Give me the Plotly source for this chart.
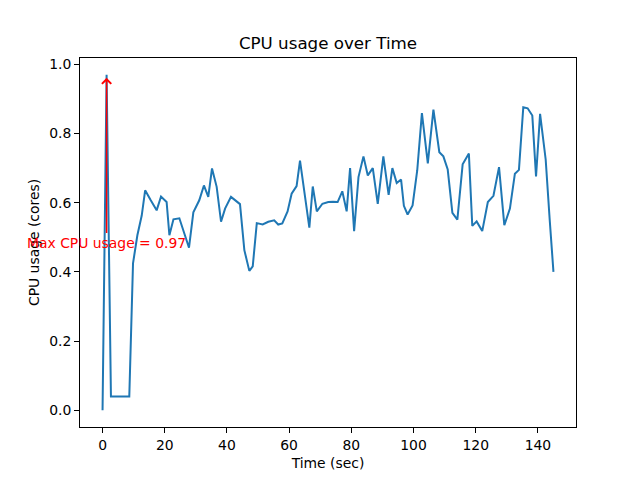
import plotly.graph_objects as go

time_sec = [0, 1.3, 2.7, 4.6, 6.5, 8.6, 9.8, 11.2, 12.6, 13.7, 15.5, 17.4, 18.8, 20.6, 21.5,
            22.8, 24.7, 26.2, 27.8, 29.2, 31.1, 32.6, 34.0, 35.2, 36.7, 38.1, 39.4, 41.3, 42.8,
            44.2, 45.6, 47.2, 48.3, 49.6, 51.5, 53.3, 55.2, 56.5, 57.8, 59.5, 60.8, 62.4, 63.5,
            65.1, 66.5, 67.6, 68.9, 70.7, 72.6, 74.1, 75.6, 77.1, 78.5, 79.6, 80.9, 82.3, 83.9,
            85.3, 86.9, 88.5, 90.3, 92.0, 93.2, 94.6, 96.0, 96.9, 98.1, 99.7, 101.2, 102.7,
            104.6, 106.4, 108.3, 109.6, 111.0, 112.5, 114.1, 115.8, 117.8, 118.9, 120.3, 122.1,
            123.9, 125.7, 127.5, 129.2, 131.0, 132.6, 133.9, 135.3, 136.7, 138.2, 139.4, 140.7,
            142.5, 143.8, 145.0]
cpu_usage = [0.0, 0.97, 0.040, 0.040, 0.041, 0.040, 0.425, 0.506, 0.563, 0.636, 0.607, 0.578,
             0.618, 0.602, 0.506, 0.552, 0.555, 0.512, 0.470, 0.572, 0.607, 0.650, 0.617, 0.699,
             0.646, 0.545, 0.583, 0.617, 0.605, 0.596, 0.463, 0.403, 0.416, 0.541, 0.537, 0.545,
             0.549, 0.537, 0.540, 0.575, 0.626, 0.648, 0.722, 0.626, 0.528, 0.647, 0.575, 0.597,
             0.602, 0.603, 0.602, 0.633, 0.575, 0.700, 0.518, 0.674, 0.734, 0.679, 0.700, 0.597,
             0.734, 0.623, 0.700, 0.657, 0.667, 0.591, 0.566, 0.592, 0.694, 0.859, 0.714, 0.869,
             0.746, 0.734, 0.696, 0.571, 0.551, 0.711, 0.742, 0.533, 0.546, 0.518, 0.602, 0.620,
             0.703, 0.535, 0.583, 0.684, 0.695, 0.876, 0.873, 0.852, 0.676, 0.857, 0.725, 0.55,
             0.400]

x_ticks = [0, 20, 40, 60, 80, 100, 120, 140]
y_ticks = [0.0, 0.2, 0.4, 0.6, 0.8, 1.0]
y_tick_labels = ["0.0", "0.2", "0.4", "0.6", "0.8", "1.0"]

max_val = max(cpu_usage)
max_t = time_sec[cpu_usage.index(max_val)]

font = "DejaVu Sans"

fig = go.Figure()
fig.add_trace(go.Scatter(x=time_sec, y=cpu_usage, mode="lines",
                         line=dict(color="#1f77b4", width=2), showlegend=False))

fig.add_annotation(x=max_t, y=max_val, ax=max_t, ay=max_val / 2, xref="x", yref="y",
                   axref="x", ayref="y", text="Max CPU usage = 0.97", showarrow=True,
                   arrowhead=4, arrowsize=1.2, arrowwidth=1.5, arrowcolor="red", standoff=3,
                   font=dict(family=font, size=13.9, color="red"))

xmin, xmax = -7.25, 152.25
ymin, ymax = -0.0485, 1.0185

axis_common = dict(showline=True, linecolor="black", linewidth=1, mirror=True,
                   ticks="outside", ticklen=5, tickcolor="black", tickwidth=1,
                   showgrid=False, zeroline=False, automargin=False,
                   tickfont=dict(family=font, size=13.9, color="black"))

fig.update_xaxes(range=[xmin, xmax], tickvals=x_ticks,
                 title=dict(text="Time (sec)", font=dict(family=font, size=13.9, color="black"),
                            standoff=6),
                 **axis_common)
fig.update_yaxes(range=[ymin, ymax], tickvals=y_ticks, ticktext=y_tick_labels,
                 title=dict(text="CPU usage (cores)", font=dict(family=font, size=13.9, color="black"),
                            standoff=6),
                 **axis_common)

# page body has an 8px default margin; compensate so the plot area lands at 80..576 x 58..427
W, H = 624, 464
fig.update_layout(
    width=W, height=H,
    margin=dict(l=72, r=56, t=50, b=45, pad=0),
    paper_bgcolor="white", plot_bgcolor="white",
    title=dict(text="CPU usage over Time", x=(72 + (W - 56)) / 2 / W, xanchor="center",
               y=1 - 41 / H, yanchor="bottom", yref="container",
               font=dict(family=font, size=16.7, color="black")),
)

fig.write_html("out.html")
